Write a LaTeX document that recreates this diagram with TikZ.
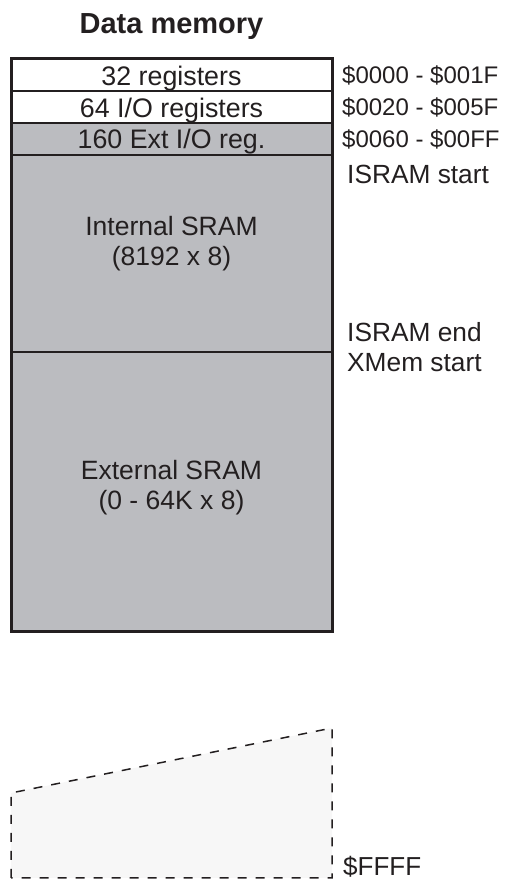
\documentclass[tikz,border=0pt]{standalone}
\usepackage{fontspec}
\setmainfont{Liberation Sans}
\usepackage{tikz}
\usetikzlibrary{positioning}
\usetikzlibrary{calc}

\definecolor{memgray}{RGB}{187,188,192}
\definecolor{memline}{RGB}{35,31,32}
\definecolor{memfaint}{RGB}{247,247,247}

\tikzset{
	memrow/.style={draw=memline, line width=1.5pt, minimum width=321pt, inner sep=0pt, outer sep=0pt},
	memtext/.style={text=memline, align=center, inner sep=0pt, font=\fontsize{26.8}{30}\selectfont},
	rowtext/.style={memtext, text height=21pt, text depth=0pt},
	addr/.style={text=memline, align=left, inner sep=0pt, font=\fontsize{24}{30}\selectfont},
	spare/.style={draw=memline, line width=1.5pt, dash pattern=on 9pt off 9pt, fill=memfaint}
}

\begin{document}
\begin{tikzpicture}[x=1pt,y=1pt]
	\useasboundingbox (0,0) rectangle (524,880);
	% memory rows, top to bottom
	\node[memrow, rowtext, fill=white, minimum height=32pt, anchor=north west] (reg) at (11,821) {32 registers};
	\node[memrow, rowtext, fill=white, minimum height=32pt, below=0pt of reg] (io) {64 I/O registers};
	\node[memrow, rowtext, text height=20pt, fill=memgray, minimum height=32pt, below=0pt of io] (extio) {160 Ext I/O reg.};
	\node[memrow, fill=memgray, minimum height=197pt, below=0pt of extio,
		label={[memtext, font=\fontsize{26.5}{30}\selectfont, yshift=10pt]center:Internal SRAM\\(8192 x 8)}] (isram) {};
	\node[memrow, fill=memgray, minimum height=280pt, below=0pt of isram,
		label={[memtext, font=\fontsize{26.5}{30}\selectfont, yshift=4pt]center:External SRAM\\(0 - 64K x 8)}] (xsram) {};
	\draw[line width=3pt, memline] (reg.north west) rectangle (xsram.south east);
	\node[memtext, font=\bfseries\fontsize{29}{32}\selectfont, above=19pt of reg] (title) {Data memory};

	% addresses
	\node[addr, right=10pt of reg] (a0) {\$0000 - \$001F};
	\node[addr, right=10pt of io] (a1) {\$0020 - \$005F};
	\node[addr, right=10pt of extio] (a2) {\$0060 - \$00FF};
	\node[memtext, font=\fontsize{26.3}{30}\selectfont, anchor=west, right=15pt of isram.north east, yshift=-19pt] (istart) {ISRAM start};
	\node[memtext, font=\fontsize{26.3}{30}\selectfont, align=left, right=15pt of isram.south east, yshift=5pt] (iend) {ISRAM end\\XMem start};

	% unused space up to the top
	\coordinate (sbl) at (11,2);
	\coordinate (stl) at (11,87);
	\coordinate (str) at (332,152);
	\coordinate (sbr) at (332,2);
	\draw[spare] (sbl) -- (stl) -- (str) -- (sbr) -- cycle;
	\node[addr, font=\fontsize{26}{30}\selectfont, right=11pt of sbr, yshift=11pt] (top) {\$FFFF};
\end{tikzpicture}
\end{document}
